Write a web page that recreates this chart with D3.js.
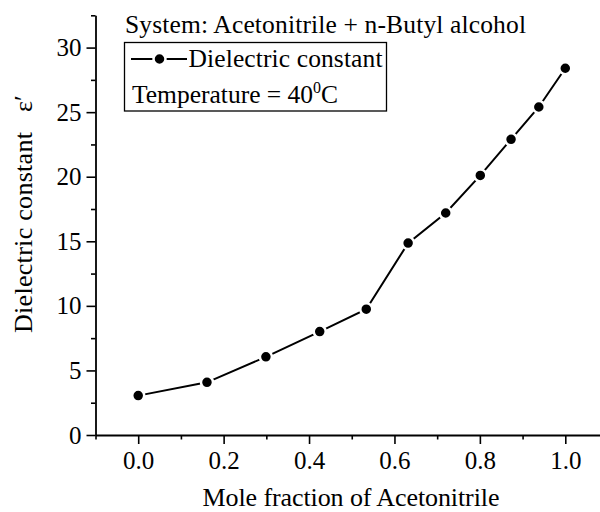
<!DOCTYPE html>
<html>
<head>
<meta charset="utf-8">
<script src="https://cdn.jsdelivr.net/npm/d3@7"></script>
<style>
  body { margin: 0; background: #fff; }
  svg text { font-family: "Liberation Serif", "Times New Roman", serif !important; fill: #000; }
</style>
</head>
<body>
<svg id="chart" width="600" height="512"></svg>
<script>
// mole fraction of acetonitrile vs dielectric constant
const moleFraction = [0.0, 0.161, 0.299, 0.425, 0.534, 0.632, 0.720, 0.801, 0.873, 0.938, 1.0];
const dielectric = [3.05, 4.08, 6.05, 8.01, 9.74, 14.86, 17.19, 20.1, 22.9, 25.4, 28.4];

const xTicks = [0.0, 0.2, 0.4, 0.6, 0.8, 1.0];
const xMinor = [-0.1, 0.1, 0.3, 0.5, 0.7, 0.9, 1.1];
const yTicks = [0, 5, 10, 15, 20, 25, 30];
const yMinor = [2.5, 7.5, 12.5, 17.5, 22.5, 27.5, 32.5];

const svg = d3.select("#chart");

// scales - axis starts at -0.1, runs off the right edge
const x = d3.scaleLinear().domain([-0.1, 1.1]).range([95.5, 608]);
const y = d3.scaleLinear().domain([0, 32.5]).range([435, 15.3]);

const ink = "#000";

// x axis, major + minor ticks pointing down
svg.append("g")
  .attr("transform", `translate(0,${y(0)})`)
  .call(d3.axisBottom(x).tickValues(xMinor).tickSize(4.5).tickFormat(""))
  .call(g => g.select(".domain").remove())
  .selectAll("line").attr("stroke", ink).attr("stroke-width", 1.6);

svg.append("g")
  .attr("transform", `translate(0,${y(0)})`)
  .call(d3.axisBottom(x).tickValues(xTicks).tickSize(9).tickSizeOuter(0).tickPadding(7).tickFormat(d3.format(".1f")))
  .call(g => g.select(".domain").attr("stroke", ink).attr("stroke-width", 1.8))
  .call(g => g.selectAll("line").attr("stroke", ink).attr("stroke-width", 1.6))
  .call(g => g.selectAll("text").attr("font-size", 25));

// y axis, ticks pointing left
svg.append("g")
  .attr("transform", `translate(${x(-0.1)},0)`)
  .call(d3.axisLeft(y).tickValues(yMinor).tickSize(4.5).tickFormat(""))
  .call(g => g.select(".domain").remove())
  .selectAll("line").attr("stroke", ink).attr("stroke-width", 1.6);

svg.append("g")
  .attr("transform", `translate(${x(-0.1)},0)`)
  .call(d3.axisLeft(y).tickValues(yTicks).tickSize(9).tickSizeOuter(0).tickPadding(5))
  .call(g => g.select(".domain").attr("stroke", ink).attr("stroke-width", 1.8))
  .call(g => g.selectAll("line").attr("stroke", ink).attr("stroke-width", 1.6))
  .call(g => g.selectAll("text").attr("font-size", 25));

// axis titles
svg.append("text")
  .attr("x", 351)
  .attr("y", 506)
  .attr("text-anchor", "middle")
  .attr("font-size", 26)
  .attr("textLength", 297)
  .text("Mole fraction of Acetonitrile");

svg.append("text")
  .attr("transform", "translate(32,333) rotate(-90)")
  .attr("font-size", 26)
  .attr("textLength", 201)
  .text("Dielectric constant");

svg.append("text")
  .attr("transform", "translate(32,112) rotate(-90)")
  .attr("font-size", 26)
  .text("ε′");

// the data line, then dots with a white ring so the line looks broken at each point
const line = d3.line()
  .x((d, i) => x(moleFraction[i]))
  .y(d => y(d));

svg.append("path")
  .datum(dielectric)
  .attr("d", line)
  .attr("fill", "none")
  .attr("stroke", ink)
  .attr("stroke-width", 2);

svg.selectAll("circle.pt")
  .data(dielectric)
  .enter()
  .append("circle")
  .attr("class", "pt")
  .attr("cx", (d, i) => x(moleFraction[i]))
  .attr("cy", d => y(d))
  .attr("r", 6)
  .attr("fill", ink)
  .attr("stroke", "#fff")
  .attr("stroke-width", 2.5);

// title + legend box
svg.append("text")
  .attr("x", 125)
  .attr("y", 33)
  .attr("font-size", 25.5)
  .attr("textLength", 401)
  .text("System: Acetonitrile + n-Butyl alcohol");

const legend = svg.append("g");
legend.append("rect")
  .attr("x", 124.5).attr("y", 42.5)
  .attr("width", 262).attr("height", 68.5)
  .attr("fill", "none").attr("stroke", ink).attr("stroke-width", 1.3);

legend.append("line")
  .attr("x1", 131).attr("x2", 187).attr("y1", 59).attr("y2", 59)
  .attr("stroke", ink).attr("stroke-width", 2);
legend.append("circle")
  .attr("cx", 159.5).attr("cy", 59).attr("r", 6)
  .attr("fill", ink).attr("stroke", "#fff").attr("stroke-width", 2.5);

legend.append("text")
  .attr("x", 188.5).attr("y", 67)
  .attr("font-size", 25.5)
  .attr("textLength", 194)
  .text("Dielectric constant");

const temp = legend.append("text")
  .attr("x", 132).attr("y", 103)
  .attr("font-size", 25.5);
temp.append("tspan").text("Temperature = 40");
temp.append("tspan").attr("dy", -10).attr("font-size", 16).text("0");
temp.append("tspan").attr("dy", 10).text("C");
</script>
</body>
</html>
